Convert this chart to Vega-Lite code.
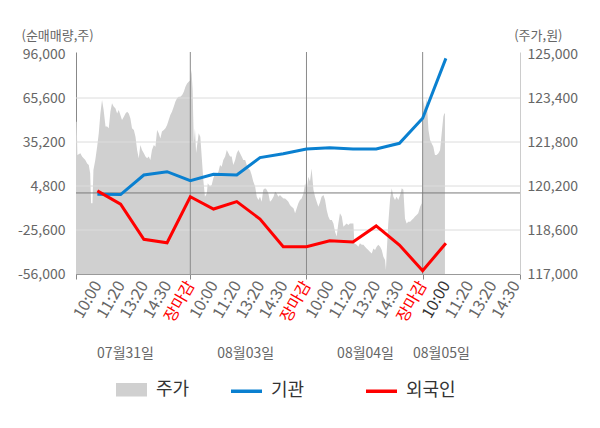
{
  "$schema": "https://vega.github.io/schema/vega-lite/v6.json",
  "width": 444,
  "height": 222,
  "autosize": {"type": "none"},
  "padding": {"left": 76, "top": 52, "right": 80, "bottom": 154},
  "background": "white",
  "config": {
    "font": "Noto Sans CJK KR",
    "view": {"fill": "#f4f4f4", "stroke": null},
    "axis": {
      "labelFont": "Noto Sans CJK KR",
      "titleFont": "Noto Sans CJK KR",
      "labelColor": "#666666",
      "titleColor": "#666666",
      "labelFontSize": 14,
      "titleFontSize": 13,
      "titleFontWeight": "normal",
      "grid": false,
      "ticks": false
    },
    "legend": {"labelFont": "Noto Sans CJK KR"}
  },
  "datasets": {
    "price": [
      {"pos": -0.92, "price": 122540}, {"pos": -0.89, "price": 122540}, {"pos": -0.86, "price": 121330},
      {"pos": -0.73, "price": 121390}, {"pos": -0.66, "price": 121270}, {"pos": -0.59, "price": 121210},
      {"pos": -0.52, "price": 121150}, {"pos": -0.44, "price": 121020}, {"pos": -0.37, "price": 120960},
      {"pos": -0.31, "price": 120660}, {"pos": -0.27, "price": 119570}, {"pos": -0.21, "price": 119570},
      {"pos": -0.17, "price": 120780}, {"pos": -0.09, "price": 121150}, {"pos": -0.01, "price": 121630},
      {"pos": 0.06, "price": 122120}, {"pos": 0.13, "price": 122840}, {"pos": 0.2, "price": 123330},
      {"pos": 0.27, "price": 122960}, {"pos": 0.35, "price": 122360}, {"pos": 0.42, "price": 122360},
      {"pos": 0.49, "price": 122300}, {"pos": 0.56, "price": 122900}, {"pos": 0.63, "price": 123210},
      {"pos": 0.7, "price": 123090}, {"pos": 0.78, "price": 123020}, {"pos": 0.85, "price": 122840},
      {"pos": 0.92, "price": 122960}, {"pos": 0.99, "price": 122780}, {"pos": 1.06, "price": 122600},
      {"pos": 1.14, "price": 122720}, {"pos": 1.21, "price": 122840}, {"pos": 1.28, "price": 122900},
      {"pos": 1.35, "price": 122840}, {"pos": 1.42, "price": 122660}, {"pos": 1.49, "price": 122300},
      {"pos": 1.57, "price": 122240}, {"pos": 1.64, "price": 121990}, {"pos": 1.71, "price": 121510},
      {"pos": 1.78, "price": 121210}, {"pos": 1.85, "price": 121690}, {"pos": 1.92, "price": 121510},
      {"pos": 2.0, "price": 121390}, {"pos": 2.07, "price": 121270}, {"pos": 2.14, "price": 121210},
      {"pos": 2.21, "price": 121270}, {"pos": 2.28, "price": 121150}, {"pos": 2.35, "price": 121510},
      {"pos": 2.43, "price": 121690}, {"pos": 2.5, "price": 121630}, {"pos": 2.57, "price": 122240},
      {"pos": 2.64, "price": 122120}, {"pos": 2.71, "price": 121930}, {"pos": 2.78, "price": 122180},
      {"pos": 2.86, "price": 122240}, {"pos": 2.93, "price": 122300}, {"pos": 3.0, "price": 122420},
      {"pos": 3.07, "price": 122600}, {"pos": 3.14, "price": 122780}, {"pos": 3.21, "price": 122900},
      {"pos": 3.29, "price": 123090}, {"pos": 3.36, "price": 123270}, {"pos": 3.43, "price": 123390},
      {"pos": 3.5, "price": 123450}, {"pos": 3.57, "price": 123450}, {"pos": 3.65, "price": 123510},
      {"pos": 3.72, "price": 123630}, {"pos": 3.79, "price": 123810}, {"pos": 3.86, "price": 123930},
      {"pos": 3.93, "price": 123990}, {"pos": 4.0, "price": 124050}, {"pos": 4.05, "price": 124420},
      {"pos": 4.1, "price": 123690}, {"pos": 4.15, "price": 121750}, {"pos": 4.2, "price": 122300},
      {"pos": 4.25, "price": 121400}, {"pos": 4.36, "price": 122120}, {"pos": 4.43, "price": 121990},
      {"pos": 4.49, "price": 121270}, {"pos": 4.56, "price": 120420}, {"pos": 4.63, "price": 119810},
      {"pos": 4.71, "price": 119930}, {"pos": 4.75, "price": 120300}, {"pos": 4.85, "price": 120180},
      {"pos": 4.92, "price": 120240}, {"pos": 4.99, "price": 120480}, {"pos": 5.07, "price": 120660},
      {"pos": 5.14, "price": 120600}, {"pos": 5.21, "price": 120720}, {"pos": 5.28, "price": 120960},
      {"pos": 5.35, "price": 120900}, {"pos": 5.42, "price": 121150}, {"pos": 5.5, "price": 121270},
      {"pos": 5.57, "price": 121510}, {"pos": 5.64, "price": 121390}, {"pos": 5.71, "price": 121270},
      {"pos": 5.78, "price": 121270}, {"pos": 5.85, "price": 120960}, {"pos": 5.93, "price": 121150},
      {"pos": 6.0, "price": 121390}, {"pos": 6.07, "price": 121510}, {"pos": 6.14, "price": 121390},
      {"pos": 6.21, "price": 121270}, {"pos": 6.28, "price": 121150}, {"pos": 6.36, "price": 121150},
      {"pos": 6.43, "price": 120960}, {"pos": 6.5, "price": 120840}, {"pos": 6.57, "price": 120780},
      {"pos": 6.64, "price": 120600}, {"pos": 6.71, "price": 120360}, {"pos": 6.79, "price": 120180},
      {"pos": 6.86, "price": 119810}, {"pos": 6.93, "price": 119690}, {"pos": 7.0, "price": 119810},
      {"pos": 7.07, "price": 119630}, {"pos": 7.14, "price": 120060}, {"pos": 7.22, "price": 120120},
      {"pos": 7.29, "price": 120060}, {"pos": 7.36, "price": 119930}, {"pos": 7.43, "price": 119630},
      {"pos": 7.5, "price": 119690}, {"pos": 7.58, "price": 119810}, {"pos": 7.65, "price": 119990},
      {"pos": 7.72, "price": 119930}, {"pos": 7.79, "price": 119810}, {"pos": 7.86, "price": 119870},
      {"pos": 7.93, "price": 119810}, {"pos": 8.01, "price": 119750}, {"pos": 8.08, "price": 119750},
      {"pos": 8.15, "price": 119690}, {"pos": 8.22, "price": 119630}, {"pos": 8.29, "price": 119510},
      {"pos": 8.36, "price": 119450}, {"pos": 8.44, "price": 119390}, {"pos": 8.51, "price": 119210},
      {"pos": 8.58, "price": 119390}, {"pos": 8.65, "price": 119570}, {"pos": 8.72, "price": 119690},
      {"pos": 8.79, "price": 119750}, {"pos": 8.87, "price": 119930}, {"pos": 8.94, "price": 120300},
      {"pos": 9.01, "price": 120060}, {"pos": 9.08, "price": 120540}, {"pos": 9.15, "price": 120360},
      {"pos": 9.22, "price": 120840}, {"pos": 9.3, "price": 120060}, {"pos": 9.37, "price": 119810},
      {"pos": 9.44, "price": 119630}, {"pos": 9.51, "price": 119450}, {"pos": 9.58, "price": 119600},
      {"pos": 9.65, "price": 119810}, {"pos": 9.73, "price": 119870}, {"pos": 9.8, "price": 119690},
      {"pos": 9.87, "price": 119330}, {"pos": 9.94, "price": 119090}, {"pos": 10.01, "price": 118960},
      {"pos": 10.09, "price": 118960}, {"pos": 10.16, "price": 118840}, {"pos": 10.23, "price": 118540},
      {"pos": 10.3, "price": 118360}, {"pos": 10.37, "price": 118840}, {"pos": 10.44, "price": 119210},
      {"pos": 10.52, "price": 119090}, {"pos": 10.59, "price": 118720}, {"pos": 10.66, "price": 118780},
      {"pos": 10.73, "price": 118840}, {"pos": 10.8, "price": 118780}, {"pos": 10.87, "price": 118840},
      {"pos": 10.95, "price": 118840}, {"pos": 11.02, "price": 118840}, {"pos": 11.06, "price": 118120},
      {"pos": 11.16, "price": 118060}, {"pos": 11.23, "price": 117990}, {"pos": 11.3, "price": 118120},
      {"pos": 11.38, "price": 118060}, {"pos": 11.45, "price": 118060}, {"pos": 11.52, "price": 117990},
      {"pos": 11.59, "price": 117930}, {"pos": 11.66, "price": 117870}, {"pos": 11.73, "price": 117810},
      {"pos": 11.81, "price": 117750}, {"pos": 11.88, "price": 117930}, {"pos": 11.95, "price": 117870},
      {"pos": 12.02, "price": 117990}, {"pos": 12.09, "price": 118060}, {"pos": 12.17, "price": 117990},
      {"pos": 12.24, "price": 117870}, {"pos": 12.31, "price": 117630}, {"pos": 12.38, "price": 117510},
      {"pos": 12.42, "price": 117150}, {"pos": 12.45, "price": 117750}, {"pos": 12.52, "price": 118840},
      {"pos": 12.6, "price": 119750}, {"pos": 12.67, "price": 120120}, {"pos": 12.74, "price": 119810},
      {"pos": 12.81, "price": 119690}, {"pos": 12.88, "price": 119810}, {"pos": 12.95, "price": 119690},
      {"pos": 13.03, "price": 119870}, {"pos": 13.1, "price": 120120}, {"pos": 13.17, "price": 120060},
      {"pos": 13.24, "price": 119020}, {"pos": 13.31, "price": 118840}, {"pos": 13.38, "price": 118900},
      {"pos": 13.46, "price": 118900}, {"pos": 13.53, "price": 118960}, {"pos": 13.6, "price": 119020},
      {"pos": 13.67, "price": 119090}, {"pos": 13.74, "price": 119150}, {"pos": 13.81, "price": 119210},
      {"pos": 13.89, "price": 119450}, {"pos": 13.96, "price": 119570}, {"pos": 14.0, "price": 121150},
      {"pos": 14.03, "price": 123330}, {"pos": 14.1, "price": 122960}, {"pos": 14.17, "price": 123390},
      {"pos": 14.25, "price": 122240}, {"pos": 14.32, "price": 121870}, {"pos": 14.39, "price": 121750},
      {"pos": 14.46, "price": 121630}, {"pos": 14.53, "price": 121330}, {"pos": 14.6, "price": 121330},
      {"pos": 14.68, "price": 121390}, {"pos": 14.75, "price": 121510}, {"pos": 14.82, "price": 122120},
      {"pos": 14.89, "price": 122720}, {"pos": 14.93, "price": 122840}, {"pos": 14.96, "price": 122840}
    ],
    "flow": [
      {"pos": 0, "inst": -900, "frgn": 1400},
      {"pos": 1, "inst": -1100, "frgn": -7800},
      {"pos": 2, "inst": 12400, "frgn": -32000},
      {"pos": 3, "inst": 14700, "frgn": -34400},
      {"pos": 4, "inst": 8500, "frgn": -2600},
      {"pos": 5, "inst": 12900, "frgn": -11100},
      {"pos": 6, "inst": 12400, "frgn": -6000},
      {"pos": 7, "inst": 24400, "frgn": -18000},
      {"pos": 8, "inst": 27100, "frgn": -37100},
      {"pos": 9, "inst": 30400, "frgn": -37100},
      {"pos": 10, "inst": 31300, "frgn": -33000},
      {"pos": 11, "inst": 30400, "frgn": -33900},
      {"pos": 12, "inst": 30400, "frgn": -22800},
      {"pos": 13, "inst": 34300, "frgn": -36000},
      {"pos": 14, "inst": 51600, "frgn": -53700},
      {"pos": 15, "inst": 93000, "frgn": -34800}
    ],
    "grid": [{"g": -25600}, {"g": 4800}, {"g": 35200}, {"g": 65600}],
    "zero": [{"g": 0}],
    "close": [{"pos": 4}, {"pos": 9}, {"pos": 14}],
    "dates": [
      {"pos": 1.19, "d": "07월31일"},
      {"pos": 6.36, "d": "08월03일"},
      {"pos": 11.52, "d": "08월04일"},
      {"pos": 14.79, "d": "08월05일"}
    ],
    "series": [{"s": "주가"}, {"s": "기관"}, {"s": "외국인"}]
  },
  "layer": [
    {
      "data": {"name": "price"},
      "mark": {"type": "area", "color": "#d0d0d0"},
      "encoding": {
        "x": {
          "field": "pos", "type": "quantitative",
          "scale": {"domain": [-0.92, 18.19], "nice": false, "zero": false},
          "axis": {
            "orient": "bottom", "title": null, "domain": false,
            "values": [1, 3, 5, 7, 9, 11, 13, 15, 17],
            "labelExpr": "['10:00','11:20','13:20','14:30','장마감'][datum.value % 5]",
            "labelAngle": -60, "labelAlign": "right", "labelBaseline": "middle", "labelFontSize": 16, "labelPadding": 3,
            "labelFlush": false, "labelBound": false,
            "labelColor": {"condition": [{"test": "datum.value % 5 == 4", "value": "#ff0000"}, {"test": "datum.value == 15", "value": "#333333"}], "value": "#666666"},
            "ticks": true, "tickSize": 5, "tickColor": "#888888",
            "tickOpacity": {"condition": {"test": "datum.value % 5 == 4", "value": 1}, "value": 0}
          }
        },
        "y": {
          "field": "price", "type": "quantitative", "stack": null,
          "scale": {"domain": [117000, 125073], "nice": false, "zero": false},
          "axis": {
            "orient": "right", "values": [117000, 118600, 120200, 121800, 123400, 125000],
            "labelExpr": "format(datum.value, ',')", "labelPadding": 7, "labelFlush": false, "labelOverlap": false,
            "domainColor": "#cccccc",
            "title": "(주가,원)", "titleAngle": 0, "titleX": 42, "titleY": -17, "titleAlign": "right", "titleBaseline": "middle"
          }
        },
        "y2": {"datum": 117000}
      }
    },
    {
      "layer": [
        {
          "data": {"name": "grid"},
          "mark": {"type": "rule", "color": "#dcdcdc", "strokeWidth": 1},
          "encoding": {
            "y": {
              "field": "g", "type": "quantitative",
              "scale": {"domain": [-56000, 97382], "nice": false, "zero": false},
              "axis": {
                "orient": "left", "values": [-56000, -25600, 4800, 35200, 65600, 96000],
                "labelExpr": "datum.value < 0 ? '-' + format(-datum.value, ',') : format(datum.value, ',')",
                "labelPadding": 11, "labelFlush": false, "labelOverlap": false, "domainColor": "#888888",
                "title": "(순매매량,주)", "titleAngle": 0, "titleX": -55, "titleY": -17, "titleAlign": "left", "titleBaseline": "middle"
              }
            }
          }
        },
        {
          "data": {"name": "close"},
          "mark": {"type": "rule", "color": "#8a8a8a", "strokeWidth": 1},
          "encoding": {
            "x": {
              "field": "pos", "type": "quantitative",
              "scale": {"domain": [-0.92, 18.19], "nice": false, "zero": false},
              "axis": {
                "orient": "bottom", "title": null,
                "values": [0, 2, 4, 6, 8, 10, 12, 14, 16, 18],
                "labelExpr": "['10:00','11:20','13:20','14:30','장마감'][datum.value % 5]",
                "labelAngle": -60, "labelAlign": "right", "labelBaseline": "middle", "labelFontSize": 16, "labelPadding": 3,
                "labelFlush": false, "labelBound": false,
                "labelColor": {"condition": [{"test": "datum.value % 5 == 4", "value": "#ff0000"}, {"test": "datum.value == 15", "value": "#333333"}], "value": "#666666"},
                "ticks": true, "tickSize": 5, "tickColor": "#888888",
                "tickOpacity": {"condition": {"test": "datum.value % 5 == 4", "value": 1}, "value": 0},
                "domainColor": "#999999"
              }
            }
          }
        },
        {
          "data": {"name": "zero"},
          "mark": {"type": "rule", "color": "#7a7a7a", "strokeWidth": 1},
          "encoding": {
            "y": {"field": "g", "type": "quantitative", "scale": {"domain": [-56000, 97382], "nice": false, "zero": false}}
          }
        },
        {
          "data": {"name": "flow"},
          "mark": {"type": "line", "color": "#0a80d0", "strokeWidth": 3},
          "encoding": {
            "x": {"field": "pos", "type": "quantitative", "scale": {"domain": [-0.92, 18.19], "nice": false, "zero": false}},
            "y": {"field": "inst", "type": "quantitative", "scale": {"domain": [-56000, 97382], "nice": false, "zero": false}}
          }
        },
        {
          "data": {"name": "flow"},
          "mark": {"type": "line", "color": "#ff0000", "strokeWidth": 3},
          "encoding": {
            "x": {"field": "pos", "type": "quantitative", "scale": {"domain": [-0.92, 18.19], "nice": false, "zero": false}},
            "y": {"field": "frgn", "type": "quantitative", "scale": {"domain": [-56000, 97382], "nice": false, "zero": false}}
          }
        }
      ]
    },
    {
      "data": {"name": "dates"},
      "mark": {"type": "point", "opacity": 0},
      "encoding": {
        "x": {
          "field": "pos", "type": "quantitative",
          "scale": {"domain": [-0.92, 18.19], "nice": false, "zero": false},
          "axis": {
            "orient": "bottom", "title": null, "domain": false,
            "values": [-0.92, 1.19, 6.36, 11.52, 14.79, 18.19],
            "labelExpr": "datum.value < 0 || datum.value > 18 ? '' : datum.value < 3 ? '07월31일' : datum.value < 9 ? '08월03일' : datum.value < 13 ? '08월04일' : '08월05일'",
            "labelAngle": 0, "labelAlign": "center", "labelBaseline": "middle", "labelPadding": 74,
            "labelFontSize": 14, "labelColor": "#666666", "labelOverlap": false, "labelFlush": false,
            "ticks": true, "tickSize": 5, "tickColor": "#888888",
            "tickOpacity": {"condition": {"test": "datum.value < 0 || datum.value > 18", "value": 1}, "value": 0}
          }
        }
      }
    },
    {
      "data": {"name": "series"},
      "mark": {"type": "point", "opacity": 0, "filled": false, "size": 961, "strokeWidth": 3.5},
      "encoding": {
        "color": {
          "field": "s", "type": "nominal",
          "scale": {"domain": ["주가", "기관", "외국인"], "range": ["#d0d0d0", "#0a80d0", "#ff0000"]},
          "legend": {
            "orient": "none", "legendX": 38, "legendY": 320, "direction": "horizontal", "title": null,
            "labelFontSize": 18, "labelColor": "#333333", "symbolSize": 961, "symbolOpacity": 1, "symbolStrokeWidth": 3.5,
            "columnPadding": 34, "labelOffset": 7, "gridAlign": "each",
            "labelExpr": "datum.label == '기관' ? '기관\u00a0\u3164' : datum.label"
          }
        },
        "shape": {
          "field": "s", "type": "nominal",
          "scale": {"domain": ["주가", "기관", "외국인"], "range": ["M-1,-0.32H1M-1,-0.16H1M-1,0H1M-1,0.16H1M-1,0.32H1", "M-1,0H1", "M-1,0H1"]},
          "legend": {
            "orient": "none", "legendX": 38, "legendY": 320, "direction": "horizontal", "title": null,
            "labelFontSize": 18, "labelColor": "#333333", "symbolSize": 961, "symbolOpacity": 1, "symbolStrokeWidth": 3.5,
            "columnPadding": 34, "labelOffset": 7, "gridAlign": "each",
            "labelExpr": "datum.label == '기관' ? '기관\u00a0\u3164' : datum.label"
          }
        }
      }
    }
  ],
  "resolve": {
    "scale": {"x": "independent", "y": "independent"},
    "axis": {"x": "independent", "y": "independent"}
  }
}
